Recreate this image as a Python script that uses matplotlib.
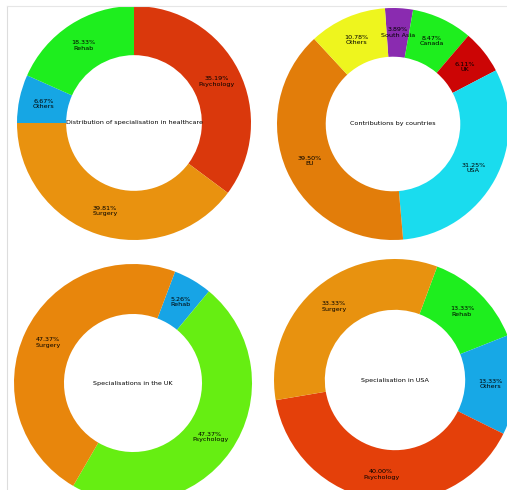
import numpy as np
import matplotlib
matplotlib.use("Agg")
import matplotlib.pyplot as plt
from matplotlib.lines import Line2D

# data
health_labels = ["Psychology", "Surgery", "Others", "Rehab"]
health_values = [35.19, 39.81, 6.67, 18.33]
health_colors = ["#DA380C", "#E9920F", "#16A6E4", "#1EEE1E"]

country_labels = ["South Asia", "Canada", "UK", "USA", "EU", "Others"]
country_values = [3.89, 8.47, 6.11, 31.25, 39.50, 10.78]
country_colors = ["#8A2BB0", "#1EEE1E", "#CC0505", "#1ADCEE", "#E27D0A", "#EEF51E"]

uk_labels = ["Rehab", "Psychology", "Surgery"]
uk_values = [5.26, 47.37, 47.37]
uk_colors = ["#17A4E6", "#66EE12", "#E8860C"]

usa_labels = ["Rehab", "Others", "Psychology", "Surgery"]
usa_values = [13.33, 13.33, 40.00, 33.33]
usa_colors = ["#1EEE1E", "#17A8E6", "#E4400A", "#E8920F"]

charts = [
    ("Distribution of specialisation in healthcare", health_labels, health_values, health_colors, 90, (134, 123, 117)),
    ("Contributions by countries", country_labels, country_values, country_colors, 94, (393, 124, 116)),
    ("Specialisations in the UK", uk_labels, uk_values, uk_colors, 69.3, (133, 383, 119)),
    ("Specialisation in USA", usa_labels, usa_values, usa_colors, 69.6, (395, 380, 121)),
]

W, H = 507, 490
fig = plt.figure(figsize=(W / 100, H / 100), dpi=100)
fig.patch.set_facecolor("white")

# faint panel border
fig.add_artist(Line2D([7 / W, 7 / W], [0, 1 - 6 / H], color="#DDDDDD", lw=0.8))
fig.add_artist(Line2D([7 / W, 1], [1 - 6 / H, 1 - 6 / H], color="#E6E6E6", lw=0.8))

for title, labels, values, colors, start, (cx, cy, r) in charts:
    ax = fig.add_axes([(cx - r) / W, 1 - (cy + r) / H, 2 * r / W, 2 * r / H])
    wedges, _ = ax.pie(values, colors=colors, startangle=start, counterclock=False,
                       radius=1, wedgeprops=dict(width=0.42, linewidth=0))
    for w, lab, v in zip(wedges, labels, values):
        ang = np.deg2rad((w.theta1 + w.theta2) / 2)
        ax.text(0.79 * np.cos(ang), 0.79 * np.sin(ang), f"{v:.2f}%\n{lab}",
                ha="center", va="center", fontsize=4.6, color="black", linespacing=1.1)
    ax.text(0, 0, title, ha="center", va="center", fontsize=4.6, color="black")
    ax.set_xlim(-1, 1)
    ax.set_ylim(-1, 1)
    ax.set_aspect("equal")
    ax.axis("off")

fig.savefig("out.png", dpi=100)
